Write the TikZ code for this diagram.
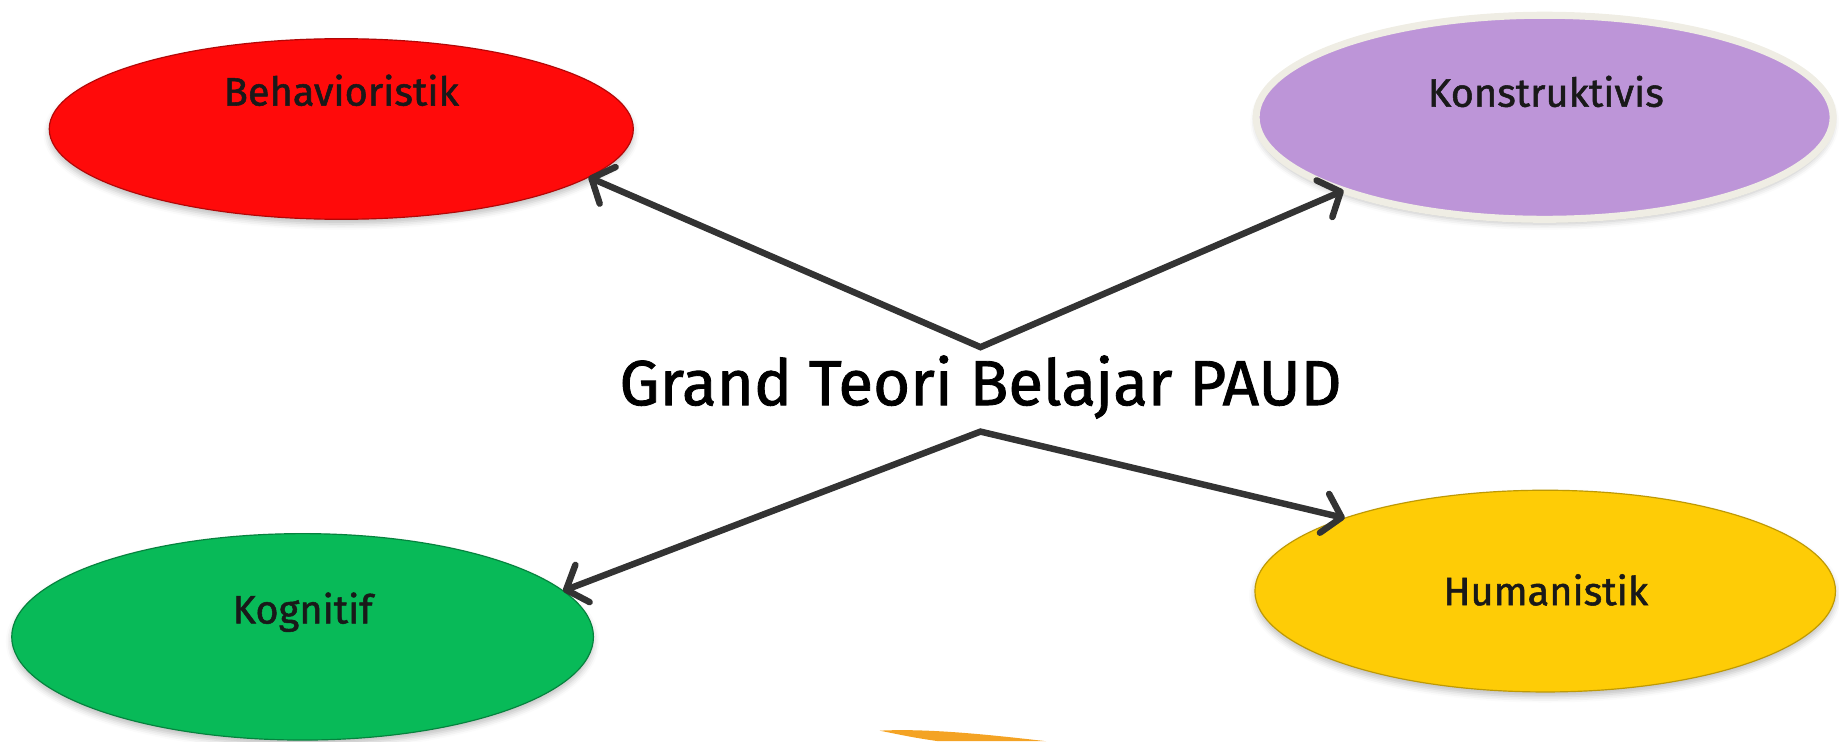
\documentclass[tikz,border=0pt]{standalone}
\usepackage{fontspec}
\setmainfont{Fira Sans}
\newfontfamily\heavy{Fira Sans}[FakeBold=1.3]
\usetikzlibrary{arrows.meta,shapes.geometric,shadows.blur}
\definecolor{cred}{HTML}{FF0A0A}
\definecolor{cpurple}{HTML}{BD95D8}
\definecolor{cgreen}{HTML}{08BA58}
\definecolor{cyellow}{HTML}{FECC06}
\definecolor{crim}{HTML}{EFEDE4}
\definecolor{carrow}{HTML}{333333}
\definecolor{corange}{HTML}{F4A324}
\tikzset{
  x=1bp, y=1bp,
  blob/.style={ellipse, inner sep=0pt, outer sep=0pt,
    blur shadow={shadow xshift=0bp, shadow yshift=-4bp, shadow blur radius=5bp, shadow opacity=25}},
  lbl/.style={font=\heavy\fontsize{34}{38}\selectfont, text=black!90},
  arr/.style={draw=carrow, line width=5.5bp, line join=miter,
    {Straight Barb[length=15bp,width=34bp,round]}-{Straight Barb[length=15bp,width=34bp,round]}},
}
\begin{document}
\begin{tikzpicture}
\useasboundingbox (0,0) rectangle (1568,632);
% four theory ovals
\node[blob, fill=cred, draw=cred!70!black, line width=1bp,
      minimum width=498bp, minimum height=154bp] (beh) at (291,522) {};
\node[blob, fill=cpurple, draw=crim, line width=6bp,
      minimum width=492bp, minimum height=174bp] (kon) at (1317,532) {};
\node[blob, fill=cgreen, draw=cgreen!70!black, line width=1bp,
      minimum width=496bp, minimum height=176bp] (kog) at (258,89) {};
\node[blob, fill=cyellow, draw=cyellow!75!black, line width=1bp,
      minimum width=495bp, minimum height=172bp] (hum) at (1317.5,128) {};
% oval labels
\node[lbl] (behl) at (291,555) {Behavioristik};
\node[lbl] (konl) at (1318,554) {Konstruktivis};
\node[lbl] (kogl) at (258,110) {Kognitif};
\node[lbl] (huml) at (1318,129) {Humanistik};
% central title
\node[font=\heavy\fontsize{54.5}{60}\selectfont] (title) at (836,302) {Grand Teori Belajar PAUD};
\coordinate (up) at (836,336);
\coordinate (down) at (836,264);
% connectors
\draw[arr] (beh.-11) -- (up) -- (kon.200);
\draw[arr] (kog.10.5) -- (down) -- (hum.160.7);
% orange sliver along the lower edge
\fill[corange] (750,9) .. controls (790,11) and (840,6) .. (892,0) -- (800,0) .. controls (780,3) .. (750,9);
\end{tikzpicture}
\end{document}
